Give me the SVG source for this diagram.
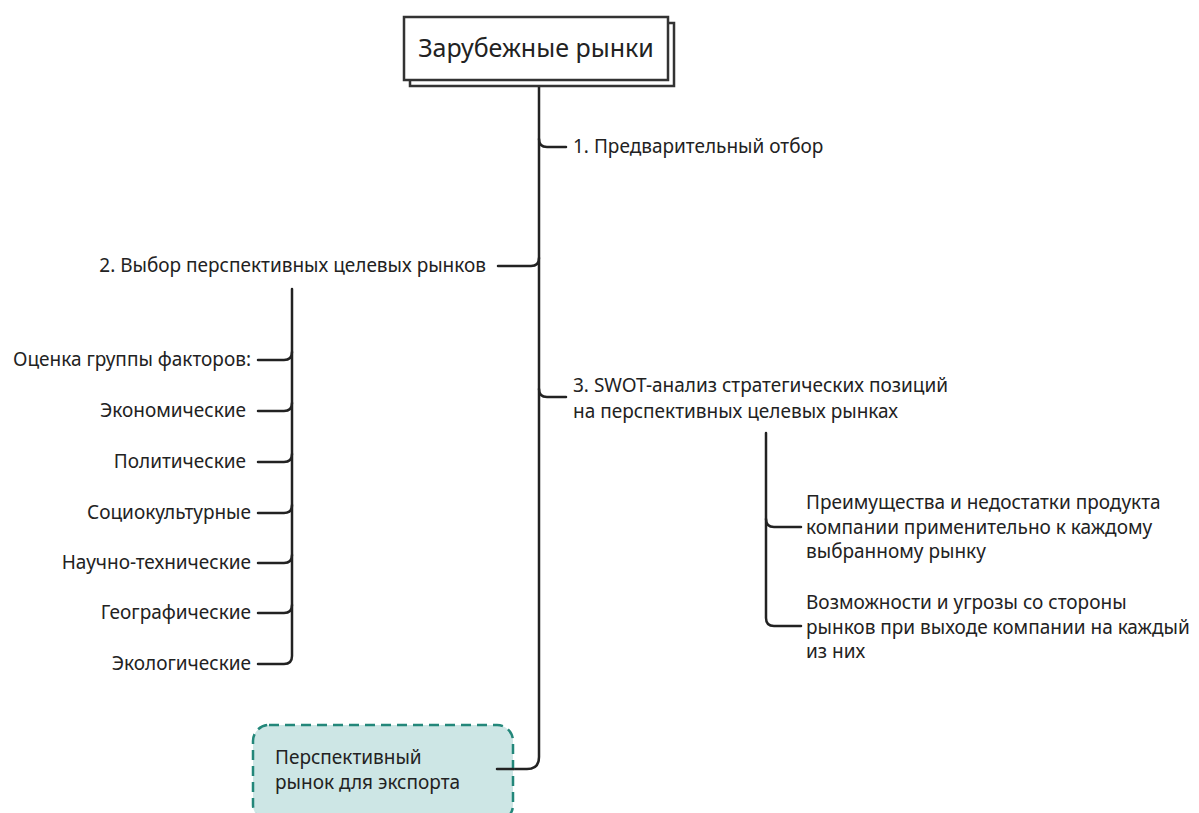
<svg xmlns="http://www.w3.org/2000/svg" width="1199" height="813" viewBox="0 0 1199 813">
<style>
text{font-family:"Noto Sans","Open Sans","Liberation Sans",sans-serif;font-size:19px;fill:#222}
.r{text-anchor:end}
.c{fill:none;stroke:#222;stroke-width:2.5;stroke-linecap:round;stroke-linejoin:round}
</style>
<rect width="1199" height="813" fill="#fff"/>
<g id="connectors">
<path class="c" d="M539 87 V757 Q539 769 527 769 H497"/>
<path class="c" d="M539 139 Q539 147 547 147 H566"/>
<path class="c" d="M539 258 Q539 266 531 266 H498"/>
<path class="c" d="M539 389 Q539 397 547 397 H566"/>
<path class="c" d="M292 289 V656 Q292 664 284 664 H258"/>
<path class="c" d="M292 352 Q292 360 284 360 H258"/>
<path class="c" d="M292 403 Q292 411 284 411 H258"/>
<path class="c" d="M292 454 Q292 462 284 462 H258"/>
<path class="c" d="M292 505 Q292 513 284 513 H258"/>
<path class="c" d="M292 555 Q292 563 284 563 H258"/>
<path class="c" d="M292 605 Q292 613 284 613 H258"/>
<path class="c" d="M766 433 V618 Q766 626 774 626 H801"/>
<path class="c" d="M766 519 Q766 527 774 527 H801"/>
</g>
<g id="root">
<rect x="410" y="23" width="264" height="63" fill="#fff" stroke="#333" stroke-width="2.5"/>
<rect x="404" y="17" width="264" height="63" fill="#fff" stroke="#333" stroke-width="2.5"/>
<text x="536" y="57" text-anchor="middle" style="font-size:25px">Зарубежные рынки</text>
</g>
<g id="n1"><text x="573" y="153">1. Предварительный отбор</text></g>
<g id="n2"><text x="486" y="272" class="r">2. Выбор перспективных целевых рынков</text></g>
<g id="n3"><text x="573" y="392">3. SWOT-анализ стратегических позиций</text><text x="573" y="418">на перспективных целевых рынках</text></g>
<g id="f0"><text x="251" y="366" class="r">Оценка группы факторов:</text></g>
<g id="f1"><text x="246" y="417" class="r">Экономические</text></g>
<g id="f2"><text x="246" y="468" class="r">Политические</text></g>
<g id="f3"><text x="251" y="519" class="r">Социокультурные</text></g>
<g id="f4"><text x="251" y="569" class="r">Научно-технические</text></g>
<g id="f5"><text x="251" y="619" class="r">Географические</text></g>
<g id="f6"><text x="251" y="670" class="r">Экологические</text></g>
<g id="s1"><text x="806" y="509">Преимущества и недостатки продукта</text><text x="806" y="534">компании применительно к каждому</text><text x="806" y="558">выбранному рынку</text></g>
<g id="s2"><text x="806" y="609">Возможности и угрозы со стороны</text><text x="806" y="634">рынков при выходе компании на каждый</text><text x="806" y="658">из них</text></g>
<g id="export">
<rect x="253" y="725" width="260" height="96" rx="16" fill="#cde6e5" stroke="#23877a" stroke-width="2.5" stroke-dasharray="10 6"/>
<path class="c" d="M497 769 H513"/>
<text x="275" y="764">Перспективный</text><text x="275" y="789">рынок для экспорта</text>
</g>
</svg>
